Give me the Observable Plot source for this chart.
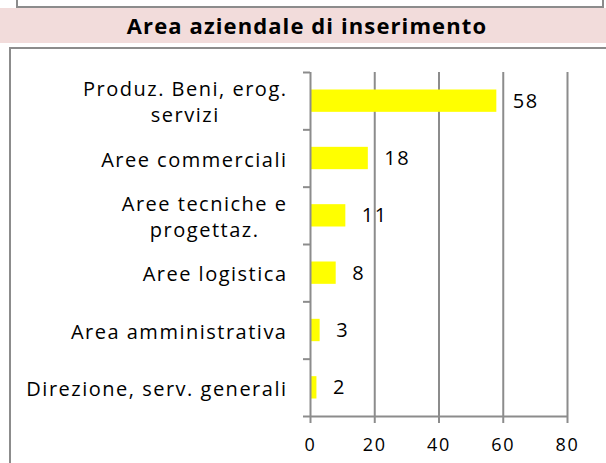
<!DOCTYPE html>
<html>
<head>
<meta charset="utf-8">
<script src="https://cdn.jsdelivr.net/npm/d3@7"></script>
<script src="https://cdn.jsdelivr.net/npm/@observablehq/plot@0.6"></script>
<style>
  html, body { margin: 0; padding: 0; background: #fff; }
  #wrap { position: relative; width: 606px; height: 463px; overflow: hidden; font-family: "Open Sans", sans-serif; }
  #prevbox { position: absolute; left: 16px; top: -20px; width: 584px; height: 24px; border: 2px solid #8c8c8c; }
  #band { position: absolute; left: 0; top: 8px; width: 606px; height: 35px; background: #f2dcdb;
          text-align: center; font-weight: bold; font-size: 22px; letter-spacing: 1.1px; line-height: 35px; color: #000; padding-left: 8px; box-sizing: border-box; }
  #frame { position: absolute; left: 9px; top: 47px; width: 700px; height: 500px; border: 2px solid #8c8c8c; }
  #chart { position: absolute; left: 0; top: 50px; }
</style>
</head>
<body>
<div id="wrap">
  <div id="prevbox"></div>
  <div id="band">Area aziendale di inserimento</div>
  <div id="frame"></div>
  <div id="chart"></div>
</div>
<script>
const categories = [
  "Produz. Beni, erog.\nservizi",
  "Aree commerciali",
  "Aree tecniche e\nprogettaz.",
  "Aree logistica",
  "Area amministrativa",
  "Direzione, serv. generali"
];
const values = [58, 18, 11, 8, 3, 2];
const xTicks = [0, 20, 40, 60, 80];

const data = categories.map((c, i) => ({label: c, value: values[i], i}));
const grey = "#8c8c8c";

const plot = Plot.plot({
  width: 606,
  height: 413,
  marginLeft: 310,
  marginRight: 39,
  marginTop: 22,
  marginBottom: 47,
  style: {background: "transparent", fontFamily: "'Open Sans', sans-serif", color: "#000"},
  x: {domain: [0, 80]},
  y: {domain: [0, categories.length], reverse: true},
  marks: [
    Plot.ruleX(xTicks.slice(1), {stroke: grey, strokeWidth: 2}),
    Plot.rectX(data, {x: "value", y: "i", interval: 1, insetTop: 17.5, insetBottom: 17.5, fill: "#ffff00"}),
    Plot.ruleX([0], {stroke: grey, strokeWidth: 2}),
    Plot.ruleY([categories.length], {stroke: grey, strokeWidth: 2}),
    Plot.axisY({ticks: d3.range(0, categories.length + 1), tickSize: 7, tickFormat: () => "", label: null, stroke: grey, strokeWidth: 2}),
    Plot.axisX({ticks: xTicks, tickSize: 7, tickPadding: 15, stroke: grey, strokeWidth: 2, fontSize: 18, fill: "#000", label: null, className: "xlab"}),
    Plot.text(data, {x: "value", y: d => d.i + 0.5, text: d => String(d.value), textAnchor: "start", dx: 16, fontSize: 20, fill: "#000", className: "vlab"}),
    Plot.text(data, {y: d => d.i + 0.5, frameAnchor: "left", text: "label", textAnchor: "end", dx: -23, fontSize: 20, lineHeight: 1.3, fill: "#000", className: "ylab"})
  ]
});
document.getElementById("chart").appendChild(plot);

// style tweaks: letter spacing and centred multi-line labels
plot.querySelectorAll(".xlab text").forEach(t => t.setAttribute("letter-spacing", "1.8"));
plot.querySelectorAll(".vlab text").forEach(t => t.setAttribute("letter-spacing", "1.5"));
plot.querySelectorAll(".ylab text").forEach(t => {
  t.setAttribute("letter-spacing", "1.5");
  if (t.querySelectorAll("tspan").length > 1) {
    const w = t.getBBox().width;
    t.setAttribute("text-anchor", "middle");
    const tr = t.getAttribute("transform") || "";
    t.setAttribute("transform", tr + ` translate(${-w / 2},0)`);
  }
});
</script>
</body>
</html>
